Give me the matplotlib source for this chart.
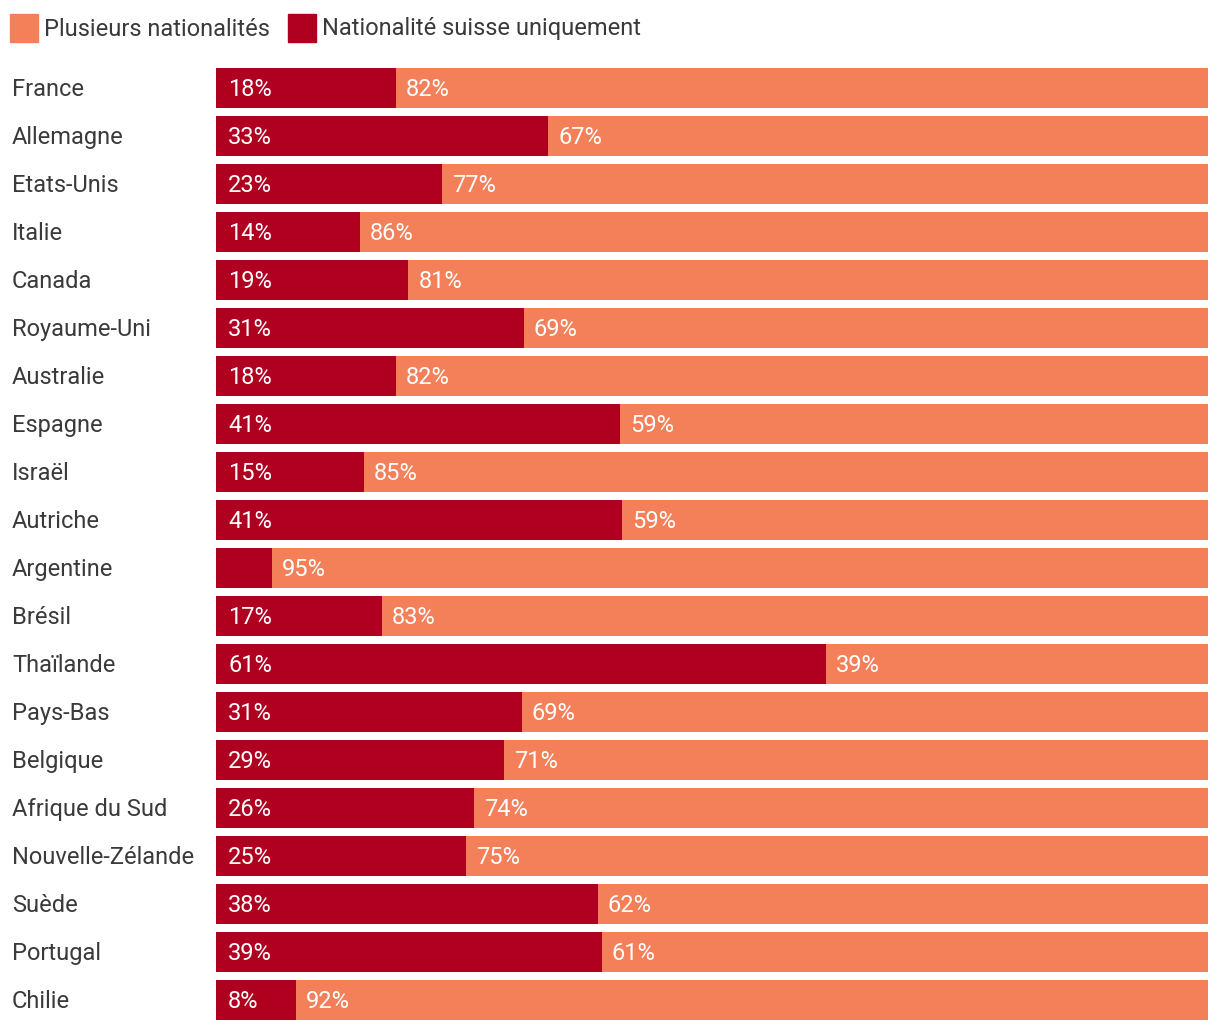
import matplotlib as mpl
import matplotlib.pyplot as plt
import matplotlib.transforms as mtransforms
from matplotlib.patches import Rectangle

mpl.rcParams['font.family'] = ['Roboto', 'DejaVu Sans']
mpl.rcParams['font.weight'] = 'normal'

# data
countries = ['France', 'Allemagne', 'Etats-Unis', 'Italie', 'Canada', 'Royaume-Uni',
             'Australie', 'Espagne', 'Israël', 'Autriche', 'Argentine', 'Brésil',
             'Thaïlande', 'Pays-Bas', 'Belgique', 'Afrique du Sud', 'Nouvelle-Zélande',
             'Suède', 'Portugal', 'Chilie']
swiss_only = [18.1, 33.5, 22.8, 14.5, 19.4, 31.0, 18.1, 40.7, 14.9, 40.9,
              5.6, 16.7, 61.5, 30.8, 29.0, 26.0, 25.2, 38.5, 38.9, 8.1]
swiss_lbl = [18, 33, 23, 14, 19, 31, 18, 41, 15, 41, 5, 17, 61, 31, 29, 26, 25, 38, 39, 8]
multi_lbl = [82, 67, 77, 86, 81, 69, 82, 59, 85, 59, 95, 83, 39, 69, 71, 74, 75, 62, 61, 92]

c_swiss = '#b0001f'
c_multi = '#f4805a'
c_text = '#3a3a3a'

W, H = 1220, 1032
fig = plt.figure(figsize=(W / 100, H / 100), dpi=100)
ax = fig.add_axes([216 / W, 1 - 1020 / H, 992 / W, 952 / H])

n = len(countries)
ypos = list(range(n))
bh = 40 / 48
multi = [100 - v for v in swiss_only]
ax.barh(ypos, swiss_only, height=bh, color=c_swiss, linewidth=0)
ax.barh(ypos, multi, left=swiss_only, height=bh, color=c_multi, linewidth=0)
ax.set_xlim(0, 100)
ax.set_ylim(n - 1 + bh / 2, -bh / 2)
ax.axis('off')

fs = 17
dn = -1.5 / 100  # small downward nudge in inches


def shift(dx):
    return mtransforms.ScaledTranslation(dx / 100, dn, fig.dpi_scale_trans)


for i in range(n):
    if swiss_only[i] >= 7:
        ax.text(0, i, '{}%'.format(swiss_lbl[i]), color='white', fontsize=fs,
                va='center', ha='left', transform=ax.transData + shift(12))
    ax.text(swiss_only[i], i, '{}%'.format(multi_lbl[i]), color='white', fontsize=fs,
            va='center', ha='left', transform=ax.transData + shift(10))

trans = mtransforms.blended_transform_factory(fig.transFigure, ax.transData)
for i, c in enumerate(countries):
    fig.text(12 / W, i, c, color=c_text, fontsize=fs, va='center', ha='left',
             transform=trans + shift(0))

# legend
fig.patches.append(Rectangle((10 / W, 1 - 42 / H), 28 / W, 28 / H, color=c_multi,
                             transform=fig.transFigure, figure=fig))
fig.text(44 / W, 1 - 29 / H, 'Plusieurs nationalités', color=c_text, fontsize=fs,
         va='center', ha='left')
fig.patches.append(Rectangle((288 / W, 1 - 42 / H), 28 / W, 28 / H, color=c_swiss,
                             transform=fig.transFigure, figure=fig))
fig.text(322 / W, 1 - 29 / H, 'Nationalité suisse uniquement', color=c_text, fontsize=fs,
         va='center', ha='left')

fig.savefig('out.png', dpi=100)
